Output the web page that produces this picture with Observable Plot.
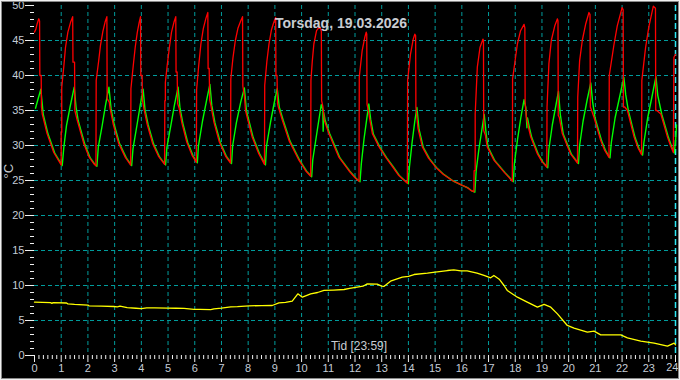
<!DOCTYPE html>
<html><head><meta charset="utf-8">
<script src="https://cdn.jsdelivr.net/npm/d3@7"></script>
<script src="https://cdn.jsdelivr.net/npm/@observablehq/plot@0.6"></script>
<style>
html,body{margin:0;padding:0;background:#000;}
#wrap{position:relative;width:680px;height:380px;overflow:hidden;background:#000;}
#frame{position:absolute;left:0;top:0;width:680px;height:380px;box-sizing:border-box;border:1px solid #f0f0f0;box-shadow:inset 0 0 0 1px #8a8a8a;pointer-events:none;}
</style></head>
<body><div id="wrap"><div id="chart"></div><div id="frame"></div></div>
<script>
// --- Data: [hour, °C] ---
const titleText = "Torsdag, 19.03.2026";
const xLabelText = "Tid [23:59]";
const yLabelText = "°C";

const xTicks = [0,1,2,3,4,5,6,7,8,9,10,11,12,13,14,15,16,17,18,19,20,21,22,23,24];
const yTicks = [0,5,10,15,20,25,30,35,40,45,50];
const xGrid = [1,2,3,4,5,6,7,8,9,10,11,12,13,14,15,16,17,18,19,20,21,22,23];
const yGrid = [5,10,15,20,25,30,35,40,45];
const nowMarker = [24];

const red = [
[0,46.2],[0.05,46.6],[0.1,47.4],[0.16,48.1],[0.19,47.8],[0.2,40],[0.25,40],[0.26,35.5],[0.29,34.5],[0.47,31.7],[0.72,29.0],[0.97,27.4],[1.0,27.2],
[1.0,31.9],[1.02,31.9],[1.02,38.3],[1.1,41.4],[1.16,44.0],[1.25,46.2],[1.35,47.6],[1.43,48.4],[1.44,41.9],[1.5,41.9],[1.51,35.0],[1.6,33.6],[1.85,30.2],[2.05,28.3],[2.22,27.4],[2.3,27.1],
[2.31,39.3],[2.4,42],[2.47,44.3],[2.56,46.3],[2.64,47.6],[2.71,48.4],[2.72,36.7],[2.8,36.2],[2.83,35.3],[2.95,33.0],[3.15,30.3],[3.4,28.3],[3.6,27.2],
[3.61,38.1],[3.7,41.5],[3.77,44],[3.85,46.2],[3.92,47.6],[3.97,48.4],[3.98,40],[4.03,40],[4.04,36.5],[4.1,35.2],[4.22,33],[4.42,30.3],[4.65,28.4],[4.87,27.3],
[4.88,36.4],[4.9,36.4],[4.9,39],[4.97,41.5],[5.05,44],[5.13,46.2],[5.22,47.6],[5.29,48.4],[5.3,40.5],[5.34,40.5],[5.36,36],[5.41,35.4],[5.52,33.2],[5.7,30.5],[5.9,28.6],[6.06,27.6],
[6.07,38],[6.15,41.5],[6.23,44.5],[6.32,46.7],[6.42,48.2],[6.49,49.0],[6.5,41],[6.54,41],[6.56,36.5],[6.6,35.8],[6.72,33.3],[6.92,30.5],[7.15,28.5],[7.34,27.5],
[7.35,39.5],[7.43,42.5],[7.52,45],[7.62,46.8],[7.72,47.8],[7.79,48.4],[7.8,38.5],[7.86,37],[7.9,35],[8.15,31.2],[8.4,28.8],[8.61,27.3],
[8.62,38.6],[8.7,42],[8.78,44.5],[8.87,46.5],[8.96,47.6],[9.03,48.3],[9.04,40],[9.08,40],[9.1,36],[9.13,35.5],[9.28,33.6],[9.53,30.7],[9.9,27.9],[10.15,26.4],[10.34,25.6],
[10.35,39.3],[10.4,42],[10.46,44.5],[10.56,46.4],[10.64,46.8],[10.71,46.7],[10.74,46.3],[10.75,36.4],[10.8,35.5],[10.85,33.6],[11.02,31.7],[11.4,28.3],[11.77,26.4],[12.0,25.4],[12.15,24.9],
[12.16,39.8],[12.27,43.6],[12.37,45.5],[12.42,46.2],[12.44,45.9],[12.45,35.9],[12.5,35],[12.55,33.8],[12.65,31.7],[12.9,29.8],[13.15,28.3],[13.4,27],[13.64,25.7],[13.96,24.6],
[13.97,39.3],[14.08,43.1],[14.18,45.2],[14.24,45.9],[14.27,45.7],[14.28,35.5],[14.36,32.4],[14.52,29.8],[14.75,28.2],[15.02,26.9],[15.3,25.9],[15.64,25.0],[15.96,24.4],[16.2,24.0],[16.33,23.6],[16.45,23.4],
[16.46,26.4],[16.5,26.4],[16.5,34.5],[16.58,41.2],[16.68,44.0],[16.79,45.2],[16.81,45],[16.82,32.1],[16.88,31.5],[16.95,29.8],[17.2,27.9],[17.58,26.2],[17.89,24.9],
[17.9,39.5],[18.08,44.5],[18.2,46.4],[18.33,47.3],[18.36,46.8],[18.37,36],[18.42,34.0],[18.5,32.5],[18.58,31.2],[18.83,28.8],[19.0,27.7],[19.18,26.9],
[19.19,35.5],[19.26,41.7],[19.35,45],[19.48,47.1],[19.58,48.1],[19.6,47.8],[19.61,34.3],[19.65,34],[19.76,31.7],[20.07,28.8],[20.33,27.5],
[20.34,36.9],[20.41,42.1],[20.51,45],[20.64,47.4],[20.76,49.0],[20.8,48.7],[20.81,35.5],[20.86,35],[20.95,34],[21.2,30.7],[21.35,29.3],[21.51,28.3],
[21.52,40],[21.7,44.5],[21.82,47.1],[22.0,49.7],[22.04,49.4],[22.05,35.5],[22.1,35.5],[22.2,35],[22.45,31.2],[22.6,29.6],[22.73,28.7],
[22.74,39.3],[22.88,44],[23.0,46.9],[23.17,49.9],[23.25,49.6],[23.26,35],[23.3,35],[23.45,34.5],[23.7,31.2],[23.82,29.9],[23.92,29.0],
[23.94,42.6],[24,43]
];

const green = [
[0,35.4],[0.08,36.5],[0.2,38.1],[0.29,34.5],[0.47,31.7],[0.72,29.0],[0.97,27.4],[1.0,27.2],
[1.06,29.8],[1.16,32.9],[1.29,35.5],[1.45,38.4],[1.52,35.5],[1.6,33.6],[1.85,30.2],[2.05,28.3],[2.22,27.4],[2.3,27.1],
[2.35,29.8],[2.5,33],[2.62,35.8],[2.75,38.4],[2.83,35.3],[2.95,33.0],[3.15,30.3],[3.4,28.3],[3.6,27.2],
[3.65,29.6],[3.8,33],[3.92,35.8],[4.03,38.1],[4.1,35.2],[4.22,33],[4.42,30.3],[4.65,28.4],[4.87,27.3],
[4.92,29.8],[5.08,33.2],[5.2,35.8],[5.34,38.4],[5.41,35.4],[5.52,33.2],[5.7,30.5],[5.9,28.6],[6.06,27.6],
[6.1,30],[6.25,33.5],[6.4,36.4],[6.53,38.8],[6.6,35.8],[6.72,33.3],[6.92,30.5],[7.15,28.5],[7.34,27.5],
[7.38,30],[7.52,33.3],[7.68,36.2],[7.82,38.3],[7.9,35],[8.15,31.2],[8.4,28.8],[8.61,27.3],
[8.65,30],[8.8,33.4],[8.93,36],[9.05,38.2],[9.13,35.5],[9.28,33.6],[9.53,30.7],[9.9,27.9],[10.15,26.4],[10.34,25.6],
[10.38,28],[10.5,31],[10.6,33.5],[10.7,35.9],[10.76,35.2],[10.77,32.1],[10.79,34.8],[10.85,33.6],[11.02,31.7],[11.4,28.3],[11.77,26.4],[12.0,25.4],[12.15,24.9],
[12.2,27.5],[12.3,31],[12.4,33.8],[12.48,36.0],[12.55,33.8],[12.65,31.7],[12.9,29.8],[13.15,28.3],[13.4,27],[13.64,25.7],[13.96,24.6],
[14.0,27],[14.1,30.5],[14.2,33.5],[14.28,35.5],[14.36,32.4],[14.52,29.8],[14.75,28.2],[15.02,26.9],[15.3,25.9],[15.64,25.0],[15.96,24.4],[16.2,24.0],[16.33,23.6],[16.45,23.4],
[16.5,26.5],[16.6,29.5],[16.7,32],[16.8,34.5],[16.88,31.5],[16.95,29.8],[17.2,27.9],[17.58,26.2],[17.89,24.9],
[17.93,27.5],[18.05,31],[18.17,34],[18.29,36.6],[18.36,35.5],[18.4,32.6],[18.42,34.0],[18.5,32.5],[18.58,31.2],[18.83,28.8],[19.0,27.7],[19.18,26.9],
[19.22,29.5],[19.35,33],[19.47,35.5],[19.58,37.8],[19.65,34.5],[19.76,31.7],[20.07,28.8],[20.33,27.5],
[20.37,30],[20.5,33.5],[20.65,36.5],[20.79,39],[20.86,36.3],[20.95,34],[21.2,30.7],[21.35,29.3],[21.51,28.3],
[21.56,30.5],[21.7,34],[21.87,37],[22.03,39.8],[22.1,37.3],[22.2,35],[22.45,31.2],[22.6,29.6],[22.73,28.7],
[22.78,30.5],[22.92,34],[23.08,37],[23.23,39.9],[23.3,37.2],[23.45,34.5],[23.7,31.2],[23.82,29.9],[23.92,29.0],
[23.97,31],[24,33]
];

const yellow = [
[0,7.62],[0.6,7.55],[0.65,7.45],[0.7,7.55],[1.2,7.5],[1.25,7.38],[1.5,7.3],[2.0,7.2],[2.04,7.1],[2.5,7.05],[2.97,7.0],[3.1,6.95],[3.2,7.05],[3.47,6.85],[3.8,6.75],[4.0,6.7],[4.2,6.8],[4.5,6.8],[4.97,6.76],[5.3,6.75],[5.6,6.72],[5.97,6.6],[6.2,6.6],[6.6,6.55],[6.72,6.67],[7.0,6.76],[7.35,6.95],[7.6,6.98],[8.03,7.1],[8.5,7.12],[8.9,7.14],[9.15,7.52],[9.4,7.6],[9.65,7.76],[9.86,8.81],[10.03,8.33],[10.2,8.6],[10.34,8.81],[10.6,9.0],[10.84,9.29],[11.2,9.35],[11.59,9.43],[11.8,9.6],[12.08,9.76],[12.3,9.9],[12.46,10.24],[12.83,10.2],[13.0,9.9],[13.08,9.86],[13.33,10.62],[13.77,11.19],[14.0,11.3],[14.21,11.57],[14.71,11.76],[15.0,11.9],[15.46,12.14],[15.7,12.24],[15.96,12.1],[16.2,12.1],[16.57,11.76],[16.83,11.43],[17.08,11.1],[17.2,11.43],[17.4,10.9],[17.58,10.0],[17.7,9.29],[18.08,8.33],[18.45,7.62],[18.83,6.9],[19.08,7.29],[19.33,6.9],[19.58,5.95],[19.95,4.29],[20.2,3.9],[20.7,3.33],[20.95,3.48],[21.2,2.95],[21.95,2.95],[22.2,2.52],[22.7,2.05],[23.2,1.76],[23.7,1.33],[23.95,1.76],[24,1.52]
];

// minor tick positions (every 10 minutes / every 1 °C)
const xMinor = [];
for (let h = 0; h < 24; h++) for (let k = 1; k < 6; k++) xMinor.push(h + k / 6);
const yMinor = [];
for (let v = 0; v <= 50; v++) if (v % 5 !== 0) yMinor.push(v);

const lastTick = xTicks[xTicks.length - 1];
const labelColor = "#c4ccd6";
const tickColor = "#f0f0f0";
const gridColor = "#009c9c";

const chart = Plot.plot({
  width: 680, height: 380,
  marginLeft: 34, marginRight: 5, marginTop: 5, marginBottom: 25,
  x: {domain: [0, 24]},
  y: {domain: [0, 50]},
  style: {background: "#000", color: labelColor, fontFamily: "Arial, 'Liberation Sans', sans-serif", fontSize: "11px"},
  marks: [
    Plot.gridX(xGrid, {stroke: gridColor, strokeOpacity: 1, strokeDasharray: "4,3"}),
    Plot.gridY(yGrid, {stroke: gridColor, strokeOpacity: 1, strokeDasharray: "4,3"}),
    Plot.ruleX(nowMarker, {stroke: "#2ee8f4", strokeWidth: 1.5, strokeDasharray: "6,3"}),
    Plot.line(yellow, {x: d => d[0], y: d => d[1], stroke: "#ffff00", strokeWidth: 1.3}),
    Plot.line(green, {x: d => d[0], y: d => d[1], stroke: "#00ff00", strokeWidth: 1.4, dx: 1, dy: 0.5}),
    Plot.line(red, {x: d => d[0], y: d => d[1], stroke: "#ff0000", strokeWidth: 1.3}),
    Plot.axisX(xTicks, {tickSize: 7, tickPadding: 2, stroke: tickColor, fill: labelColor, fontSize: 11, label: null,
      tickFormat: d => d === lastTick ? "" : String(d)}),
    Plot.text([lastTick], {x: d => d, text: d => String(d), frameAnchor: "bottom", dy: 15, dx: 3, textAnchor: "end", fill: labelColor, fontSize: 11}),
    Plot.axisX(xMinor, {tickSize: 4, tickFormat: () => "", stroke: tickColor, label: null}),
    Plot.axisY(yTicks, {tickSize: 9, tickPadding: 1, stroke: tickColor, fill: labelColor, fontSize: 11, label: null}),
    Plot.axisY(yMinor, {tickSize: 4, tickFormat: () => "", stroke: tickColor, label: null}),
    Plot.text([titleText], {text: d => d, frameAnchor: "top", dx: -14, dy: 13, fill: "#c8ccd2", fontSize: 14, fontWeight: "bold"}),
    Plot.text([xLabelText], {text: d => d, frameAnchor: "bottom", dx: 4, dy: -6, fill: "#c8ccd2", fontSize: 12}),
    Plot.text([yLabelText], {text: d => d, frameAnchor: "left", dx: -26, dy: -2, rotate: -90, fill: "#c8ccd2", fontSize: 13})
  ]
});
document.getElementById("chart").appendChild(chart);
</script>
</body></html>
